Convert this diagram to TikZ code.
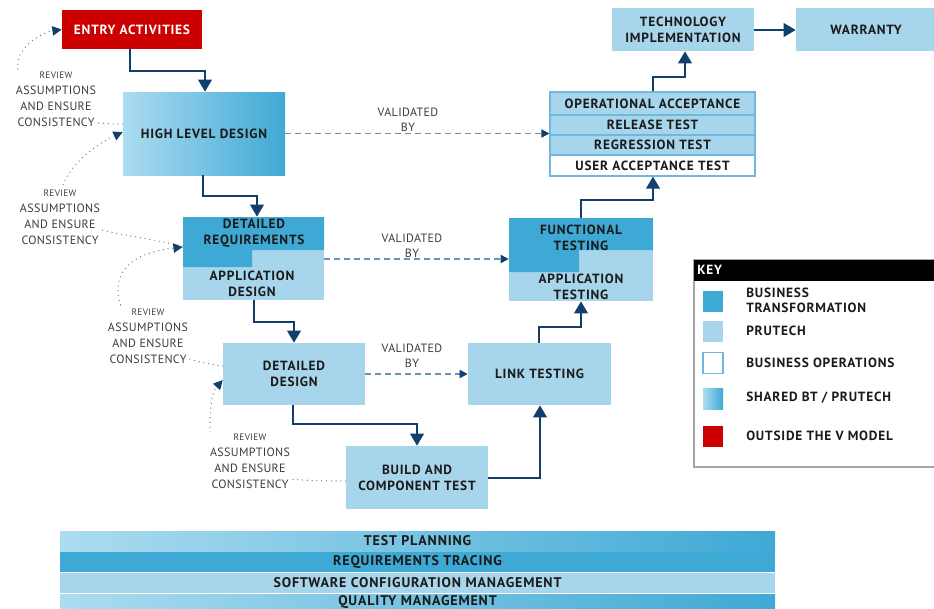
\documentclass[tikz,border=0pt]{standalone}
\usepackage{fontspec}
\setmainfont{PT Sans}
\newfontfamily\boxfont[LetterSpace=6]{PT Sans}
\newfontfamily\lblfont[LetterSpace=3]{PT Sans}
\usetikzlibrary{arrows.meta}
\definecolor{bt}{HTML}{3FA9D5}
\definecolor{ptc}{HTML}{A7D6EC}
\definecolor{ptl}{HTML}{ACDCF0}
\definecolor{redc}{HTML}{CC0000}
\definecolor{navy}{HTML}{123F6C}
\definecolor{dashc}{HTML}{6B93AE}
\definecolor{dotc}{HTML}{5C7F99}
\definecolor{txt}{HTML}{1A1A1A}
\definecolor{lbl}{HTML}{3C3C3C}
\definecolor{rowline}{HTML}{6FB9DD}
\tikzset{
 boxbase/.style={draw=none, inner sep=0pt, align=center, font=\boxfont\bfseries\fontsize{10}{12}\selectfont, text=txt},
 ptbox/.style={boxbase, fill=ptc},
 gradbox/.style={boxbase, left color=ptl, right color=bt},
 barbox/.style={boxbase, minimum width=536.25pt, minimum height=15pt, font=\boxfont\bfseries\fontsize{10.5}{12}\selectfont},
 rowbox/.style={boxbase, fill=ptc, draw=rowline, line width=0.8pt, minimum width=153.75pt},
 conn/.style={draw=navy, line width=1.9pt, -{Triangle[length=9pt,width=10pt]}},
 valid/.style={draw=dashc, line width=1.1pt, dash pattern=on 4pt off 3.5pt, -{Triangle[length=6pt,width=6pt,color=navy]}},
 review/.style={draw=dotc, line width=1pt, line cap=round, dash pattern=on 0pt off 3.6pt, -{Triangle[length=7pt,width=7pt,color=navy]}},
 rlabel/.style={fill=white, inner sep=1pt, align=center, text=lbl, font=\lblfont\fontsize{9}{12}\selectfont},
 vlabel/.style={inner sep=0pt, align=center, text=lbl, font=\lblfont\fontsize{9}{11.3}\selectfont},
 swatch/.style={inner sep=0pt, minimum width=15pt, minimum height=15.75pt},
 keytext/.style={inner sep=0pt, anchor=west, align=left, text=txt, font=\boxfont\bfseries\fontsize{10}{11.3}\selectfont},
}
\newcommand\rv{{\fontsize{7}{12}\selectfont REVIEW}}
\begin{document}
\begin{tikzpicture}[x=0.75pt,y=-0.75pt]
\useasboundingbox (0,0) rectangle (934,608);
\fill[white] (0,0) rectangle (934,608);

% boxes
\node[boxbase, fill=redc, text=white, minimum width=105pt, minimum height=29.25pt] (entry) at (132,29.5) {ENTRY ACTIVITIES};
\node[gradbox, minimum width=121.5pt, minimum height=62.25pt] (hld) at (204,133.5) {HIGH LEVEL DESIGN};
\node[ptbox, minimum width=105.75pt, minimum height=62.25pt] (dr) at (253.5,258.5) {};
\fill[bt] (183,217) -- (324,217) -- (324,250) -- (252,250) -- (252,267) -- (183,267) -- cycle;
\node[boxbase] (drt) at (254,233) {DETAILED\\REQUIREMENTS};
\node[boxbase] (adt) at (252,284) {APPLICATION\\DESIGN};
\node[ptbox, minimum width=106.5pt, minimum height=46.5pt] (dd) at (294,374) {DETAILED\\DESIGN};
\node[ptbox, minimum width=106.5pt, minimum height=47.25pt] (bct) at (417,477.5) {BUILD AND\\COMPONENT TEST};
\node[ptbox, minimum width=107.25pt, minimum height=46.5pt] (lt) at (539.5,374) {LINK TESTING};
\node[ptbox, minimum width=108pt, minimum height=62.25pt] (ft) at (581,259.5) {};
\fill[bt] (509,218) -- (653,218) -- (653,250) -- (579,250) -- (579,272) -- (509,272) -- cycle;
\node[boxbase] (ftt) at (581,238) {FUNCTIONAL\\TESTING};
\node[boxbase] (att) at (581,287) {APPLICATION\\TESTING};
\node[rowbox, minimum height=17.25pt] (oa) at (652.5,103.5) {OPERATIONAL ACCEPTANCE};
\node[rowbox, minimum height=15pt] (rt) at (652.5,125) {RELEASE TEST};
\node[rowbox, minimum height=15pt] (regt) at (652.5,145) {REGRESSION TEST};
\node[rowbox, fill=white, minimum height=15.75pt] (uat) at (652.5,165.5) {USER ACCEPTANCE TEST};
\node[ptbox, minimum width=106.5pt, minimum height=32.25pt] (ti) at (683,29.5) {TECHNOLOGY\\IMPLEMENTATION};
\node[ptbox, minimum width=105pt, minimum height=32.25pt] (war) at (866,29.5) {WARRANTY};

% main connectors
\draw[conn] (entry.south -| 130,0) -- (130,71) -- (205,71) -- (hld.north -| 205,0);
\draw[conn] (hld.south -| 203,0) -- (203,196) -- (257,196) -- (dr.north -| 257,0);
\draw[conn] (dr.south -| 254,0) -- (254,322) -- (294,322) -- (dd.north -| 294,0);
\draw[conn] (dd.south -| 293,0) -- (293,424) -- (417,424) -- (bct.north -| 417,0);
\draw[conn] (bct.east |- 0,478) -- (540,478) -- (lt.south -| 540,0);
\draw[conn] (lt.north -| 539,0) -- (539,327) -- (581,327) -- (ft.south -| 581,0);
\draw[conn] (ft.north -| 581,0) -- (581,200) -- (653,200) -- (uat.south -| 653,0);
\draw[conn] (oa.north -| 653,0) -- (653,77) -- (685,77) -- (ti.south -| 685,0);
\draw[conn] (ti.east |- 0,30) -- (war.west |- 0,30);

% validated by
\draw[valid] (hld.east) -- (rt.west |- hld.east);
\draw[valid] (dr.east |- 0,259) -- (ft.west |- 0,259);
\draw[valid] (dd.east) -- (lt.west);
\node[vlabel] (v1) at (408,120) {VALIDATED\\BY};
\node[vlabel] (v2) at (412,246) {VALIDATED\\BY};
\node[vlabel] (v3) at (412,356) {VALIDATED\\BY};

% review loops
\draw[review] (hld.west |- 0,124) .. controls (30,124) and (10,80) .. (20,55) .. controls (28,40) and (45,32) .. (entry.west);
\draw[review] (dr.west |- 0,246) .. controls (120,232) and (60,230) .. (60,200) .. controls (60,170) and (95,145) .. (hld.west |- 0,132);
\draw[review] (dd.west |- 0,366) .. controls (170,360) and (118,330) .. (118,290) .. controls (118,265) and (140,252) .. (dr.west |- 0,247);
\draw[review] (bct.west |- 0,481) .. controls (250,481) and (210,470) .. (210,430) .. controls (210,405) and (212,392) .. (dd.west |- 0,380);
\node[rlabel] (ra) at (56,99) {\rv\\ASSUMPTIONS\\AND ENSURE\\CONSISTENCY};
\node[rlabel] (rb) at (60,217) {\rv\\ASSUMPTIONS\\AND ENSURE\\CONSISTENCY};
\node[rlabel] (rc) at (148,336) {\rv\\ASSUMPTIONS\\AND ENSURE\\CONSISTENCY};
\node[rlabel] (rd) at (250,461) {\rv\\ASSUMPTIONS\\AND ENSURE\\CONSISTENCY};

% key
\draw[gray!70, line width=0.8pt] (694,260) rectangle (940,467);
\fill[black] (694,260) rectangle (940,281);
\node[keytext, text=white] (keyt) at (697,270) {KEY};
\node[swatch, fill=bt] (s1) at (713,301) {};
\node[swatch, fill=ptc] (s2) at (713,331.5) {};
\node[swatch, fill=white, draw=rowline, line width=0.8pt] (s3) at (713,363) {};
\node[swatch, left color=ptl, right color=bt] (s4) at (713,398.5) {};
\node[swatch, fill=redc] (s5) at (713,436.5) {};
\node[keytext] (k1) at (746,300.5) {BUSINESS\\TRANSFORMATION};
\node[keytext] (k2) at (746,331) {PRUTECH};
\node[keytext] (k3) at (746,363) {BUSINESS OPERATIONS};
\node[keytext] (k4) at (746,398) {SHARED BT / PRUTECH};
\node[keytext] (k5) at (746,436) {OUTSIDE THE V MODEL};

% bottom bars
\node[barbox, left color=ptl, right color=bt] (tp) at (417.5,541) {TEST PLANNING};
\node[barbox, fill=bt] (rtr) at (417.5,562) {REQUIREMENTS TRACING};
\node[barbox, fill=ptc] (scm) at (417.5,583) {SOFTWARE CONFIGURATION MANAGEMENT};
\node[barbox, left color=ptl, right color=bt] (qm) at (417.5,604) {};
\node[boxbase, font=\boxfont\bfseries\fontsize{10.5}{12}\selectfont] (qmt) at (417.5,601.5) {QUALITY MANAGEMENT};
\end{tikzpicture}
\end{document}
